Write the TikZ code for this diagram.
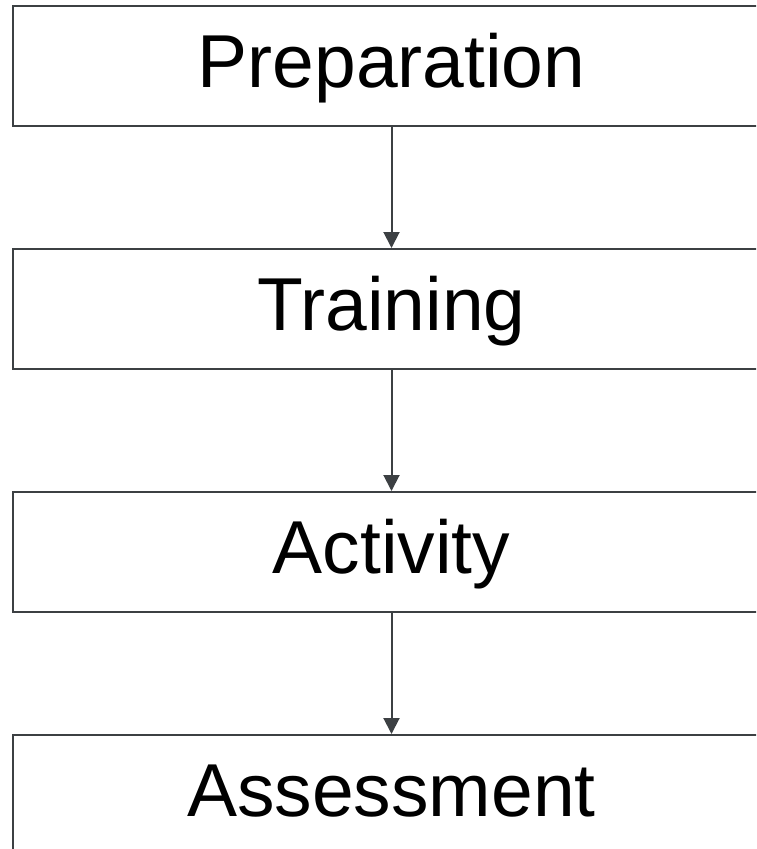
\documentclass[tikz,border=0pt]{standalone}
\usepackage{fontspec}
\setmainfont{Liberation Sans}
\usetikzlibrary{arrows.meta, positioning}
\definecolor{edgegray}{HTML}{3C4043}
\begin{document}
\begin{tikzpicture}[x=1pt, y=1pt,
    stage/.style={rectangle, draw=edgegray, line width=2pt, minimum width=757pt,
                  minimum height=120pt, inner sep=0pt, text height=54pt, text depth=11pt,
                  font=\fontsize{75}{80}\selectfont},
    flow/.style={-{Triangle[length=16pt, width=16pt]}, line width=2pt, edgegray}
]
    \clip (0,0) rectangle (756,-849);
    % Stages, top to bottom
    \node[stage] (prep) at (391.5,-66) {Preparation};
    \node[stage, below=121pt of prep] (train) {Training};
    \node[stage, below=121pt of train] (act) {Activity};
    \node[stage, below=121pt of act] (assess) {Assessment};
    \draw[flow] (prep) -- (train);
    \draw[flow] (train) -- (act);
    \draw[flow] (act) -- (assess);
\end{tikzpicture}
\end{document}
